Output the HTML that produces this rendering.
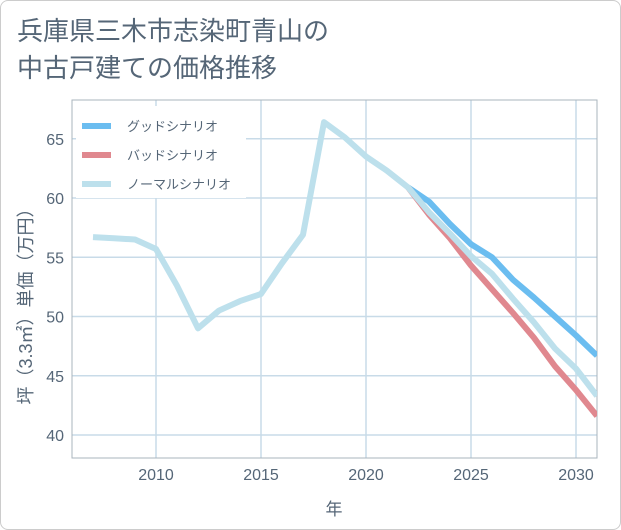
<!DOCTYPE html>
<html><head><meta charset="utf-8"><style>
body{margin:0;background:#fff;font-family:"Liberation Sans","Noto Sans CJK JP",sans-serif}
#wrap{position:relative;width:619px;height:528px;border:1px solid #ccc;border-radius:8px;overflow:hidden}
.title{position:absolute;left:16px;top:12px;font-size:26px;line-height:37px;color:#556677;margin:0;font-weight:normal}
</style></head><body>
<div id="wrap">
<h1 class="title">兵庫県三木市志染町青山の<br>中古戸建ての価格推移</h1>
<svg id="chart" width="621" height="530" style="position:absolute;left:-1px;top:-1px"></svg>
</div>
<script>
const normalYears=[2007,2008,2009,2010,2011,2012,2013,2014,2015,2016,2017,2018,2019,2020,2021,2022,2023,2024,2025,2026,2027,2028,2029,2030,2031];
const normalValues=[56.7,56.6,56.5,55.7,52.6,49.0,50.5,51.3,51.9,54.5,56.9,66.4,65.1,63.5,62.3,60.9,58.8,57.0,55.1,53.6,51.5,49.5,47.3,45.6,43.3];
const forecastYears=[2022,2023,2024,2025,2026,2027,2028,2029,2030,2031];
const goodValues=[60.9,59.7,57.8,56.1,55.0,53.1,51.6,50.0,48.4,46.7];
const badValues=[60.9,58.6,56.6,54.3,52.3,50.3,48.2,45.8,43.8,41.6];
const xTicks=[2010,2015,2020,2025,2030];
const yTicks=[40,45,50,55,60,65];
const NS='http://www.w3.org/2000/svg';
const svg=document.getElementById('chart');
const L=72,R=597,T=100,B=458;
const x=y=>156+(y-2010)*21;
const yv=v=>198-(v-60)*11.85;
function mk(t,a){const e=document.createElementNS(NS,t);for(const k in a)e.setAttribute(k,a[k]);svg.appendChild(e);return e;}
const clip=document.createElementNS(NS,'clipPath');clip.setAttribute('id','pc');
const cr=document.createElementNS(NS,'rect');cr.setAttribute('x',L);cr.setAttribute('y',T);cr.setAttribute('width',R-L);cr.setAttribute('height',B-T);clip.appendChild(cr);svg.appendChild(clip);
yTicks.forEach(v=>{
 const g=mk('line',{x1:L,x2:R,y1:yv(v),y2:yv(v),stroke:'#c8dbe8','stroke-width':1.5});
 
 
 const t=mk('text',{x:L-8,y:yv(v)+6,'text-anchor':'end','font-size':16,fill:'#556677'});t.textContent=v;
 
 
});
xTicks.forEach(v=>{
 const g=mk('line',{x1:x(v),x2:x(v),y1:T,y2:B,stroke:'#c8dbe8','stroke-width':1.5});
 
 
 const t=mk('text',{x:x(v),y:B+22,'text-anchor':'middle','font-size':16,fill:'#556677'});t.textContent=v;
 
 
});
const fr=mk('rect',{x:L,y:T,width:R-L,height:B-T,fill:'none',stroke:'#aab4bc','stroke-width':1});


function line(xs,vs,c,name){
 const p=mk('polyline',{points:xs.map((yr,i)=>x(yr)+','+yv(vs[i])).join(' '),fill:'none',stroke:c,'stroke-width':6,'stroke-linejoin':'round','clip-path':'url(#pc)'});
 
 
}
line(forecastYears,goodValues,'#6bbdf0','good-scenario-line');
line(forecastYears,badValues,'#e0888f','bad-scenario-line');
line(normalYears,normalValues,'#bde0ec','normal-scenario-line');
const lb=mk('rect',{x:76,y:106,width:170,height:92,fill:'#fff'});


[['グッドシナリオ','#6bbdf0'],['バッドシナリオ','#e0888f'],['ノーマルシナリオ','#bde0ec']].forEach((d,i)=>{
 const yy=126+i*29;
 const s=mk('line',{x1:82,x2:111,y1:yy,y2:yy,stroke:d[1],'stroke-width':6});
 
 
 const t=mk('text',{x:127,y:yy+5,'font-size':13,fill:'#556677'});t.textContent=d[0];
 
 
});
const xt=mk('text',{x:334,y:515,'text-anchor':'middle','font-size':17,fill:'#556677'});xt.textContent='年';


const yt=mk('text',{x:0,y:0,'text-anchor':'middle','font-size':18,fill:'#556677',transform:'translate(32,302) rotate(-90)'});yt.textContent='坪（3.3㎡）単価（万円）';


</script>
</body></html>
